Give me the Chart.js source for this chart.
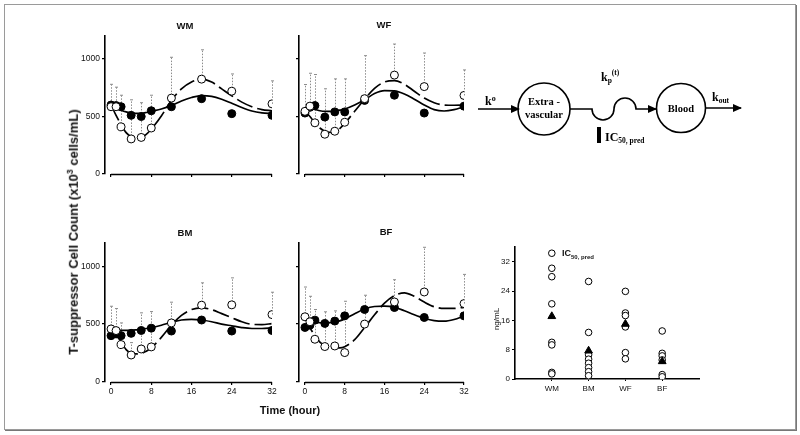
<!DOCTYPE html>
<html><head><meta charset="utf-8">
<script src="https://cdn.jsdelivr.net/npm/chart.js@4.4.0/dist/chart.umd.min.js"></script>
<style>
body{margin:0;background:#fff;width:800px;height:435px;position:relative;overflow:hidden;font-family:"Liberation Sans",Arial,sans-serif;color:#111;}
.frame{position:absolute;left:4px;top:4px;width:790px;height:424px;border:1px solid #9a9a9a;box-shadow:1px 1px 0 #777;}
canvas{position:absolute;}
.t{position:absolute;font-weight:bold;white-space:nowrap;transform:translate(-50%,-50%);}
</style></head>
<body>
<div class="frame"></div>
<canvas id="wm" width="225" height="170" style="left:60px;top:15px"></canvas>
<canvas id="wf" width="225" height="170" style="left:250px;top:15px"></canvas>
<canvas id="bm" width="225" height="185" style="left:60px;top:222px"></canvas>
<canvas id="bf" width="225" height="185" style="left:250px;top:222px"></canvas>
<canvas id="ic" width="220" height="165" style="left:490px;top:240px"></canvas>

<div class="t" style="left:185px;top:25px;font-size:9.5px">WM</div>
<div class="t" style="left:384px;top:24px;font-size:9.5px">WF</div>
<div class="t" style="left:185px;top:232px;font-size:9.5px">BM</div>
<div class="t" style="left:386px;top:231px;font-size:9.5px">BF</div>
<div class="t" style="left:290px;top:410px;font-size:11px">Time (hour)</div>
<div class="t" style="left:73px;top:232px;font-size:13px;transform:translate(-50%,-50%) rotate(-90deg)">T-suppressor Cell Count (x10<sup style="font-size:8.5px">3</sup> cells/mL)</div>
<div class="t" style="left:496px;top:319px;font-size:8px;font-weight:normal;transform:translate(-50%,-50%) rotate(-90deg)">ng/mL</div>
<div class="t" style="left:578px;top:254px;font-size:9px">IC<sub style="font-size:6px">50, pred</sub></div>

<svg width="800" height="435" style="position:absolute;left:0;top:0" font-family="'Liberation Serif',serif" font-weight="bold">
 <defs><marker id="ah" markerWidth="9" markerHeight="8" refX="8" refY="4" orient="auto" markerUnits="userSpaceOnUse"><path d="M0,0 L9,4 L0,8 z" fill="#000"/></marker></defs>
 <g stroke="#000" stroke-width="1.6" fill="none">
  <line x1="478" y1="109" x2="519" y2="109" marker-end="url(#ah)"/>
  <circle cx="544" cy="109" r="26"/>
  <path d="M570,109 H592 A11,11 0 0 0 614,109 A11,11 0 0 1 636,109 H656" marker-end="url(#ah)"/>
  <circle cx="681" cy="108" r="24.5"/>
  <line x1="705.5" y1="108" x2="741" y2="108" marker-end="url(#ah)"/>
 </g>
 <rect x="597" y="127" width="4" height="16" fill="#000"/>
 <text x="485" y="105" font-size="12">k<tspan font-size="8" dy="-4">o</tspan></text>
 <text x="544" y="105" font-size="10.5" text-anchor="middle">Extra -</text>
 <text x="544" y="118" font-size="10.5" text-anchor="middle">vascular</text>
 <text x="681" y="112" font-size="10.5" text-anchor="middle">Blood</text>
 <text x="712" y="101" font-size="12">k<tspan font-size="7.5" dy="2">out</tspan></text>
 <text x="601" y="81" font-size="12">k<tspan font-size="7.5" dy="2">p</tspan><tspan font-size="7.5" dy="-8">(t)</tspan></text>
 <text x="605" y="141" font-size="12">IC<tspan font-size="7.5" dy="2">50, pred</tspan></text>
</svg>

<script>
// ---- data ----
const times = [0, 1, 2, 4, 6, 8, 12, 18, 24, 32];
const curveT = [0, 1, 2, 3, 4, 5, 6, 7, 8, 10, 12, 14, 16, 18, 20, 22, 24, 26, 28, 30, 32];
const xTicks = [0, 8, 16, 24, 32];
const yTicks = [0, 500, 1000];

const wmFilled = [600, 595, 585, 510, 500, 550, 585, 655, 525, 510];
const wmOpen   = [585, 585, 410, 305, 318, 400, 660, 825, 720, 610];
const wmErrTop = [780, 755, 685, 645, 620, 685, 1015, 1080, 870, 810];
const wmSolid  = [600, 575, 555, 540, 530, 527, 528, 535, 545, 565, 595, 635, 665, 682, 675, 650, 615, 578, 548, 532, 525];
const wmDashed = [600, 510, 430, 360, 325, 312, 318, 345, 390, 505, 640, 740, 800, 825, 800, 740, 680, 625, 585, 560, 550];

const wfFilled = [530, 580, 595, 495, 540, 540, 640, 685, 530, 590];
const wfOpen   = [545, 590, 445, 346, 372, 450, 655, 860, 760, 683];
const wfErrTop = [778, 876, 865, 741, 827, 827, 1029, 1130, 1052, 905];
const wfSolid  = [535, 570, 562, 550, 545, 545, 548, 555, 565, 600, 645, 700, 725, 722, 695, 650, 600, 560, 548, 560, 585];
const wfDashed = [545, 500, 445, 400, 372, 362, 368, 395, 440, 545, 650, 745, 800, 812, 780, 720, 660, 620, 600, 598, 600];

const bmFilled = [400, 415, 400, 420, 445, 465, 440, 535, 440, 445];
const bmOpen   = [458, 444, 323, 233, 285, 303, 510, 663, 666, 582];
const bmErrTop = [654, 634, 510, 340, 597, 608, 689, 856, 899, 775];
const bmSolid  = [440, 445, 445, 445, 446, 450, 455, 462, 470, 490, 515, 535, 540, 535, 520, 500, 485, 470, 462, 462, 468];
const bmDashed = [460, 420, 345, 280, 248, 242, 248, 265, 295, 385, 490, 575, 625, 640, 625, 590, 555, 520, 498, 495, 505];

const bfFilled = [471, 491, 534, 506, 526, 571, 626, 643, 557, 571];
const bfOpen   = [563, 520, 369, 306, 311, 254, 500, 691, 777, 677];
const bfErrTop = [820, 740, 626, 606, 614, 697, 749, 883, 1163, 929];
const bfSolid  = [475, 505, 515, 512, 510, 512, 518, 528, 545, 590, 630, 652, 655, 645, 615, 580, 550, 530, 525, 540, 570];
const bfDashed = [565, 470, 400, 345, 315, 300, 295, 295, 305, 365, 470, 580, 680, 745, 770, 740, 690, 650, 635, 635, 645];

const icCats = ['WM', 'BM', 'WF', 'BF'];
const icWM = [34.3, 30.2, 27.9, 20.5, 10.0, 9.3, 1.8, 1.4];
const icBM = [26.6, 12.7, 6.6, 5.4, 4.3, 3.1, 2.0, 0.9];
const icWF = [23.9, 18.0, 17.3, 14.2, 7.2, 5.5];
const icBF = [13.1, 7.0, 6.3, 5.2, 1.2, 0.6];
const icMean = [17.1, 7.7, 15.0, 4.8];
const icTicks = [0, 8, 16, 24, 32];

Chart.defaults.font.family = "'Liberation Sans', Arial, sans-serif";
Chart.defaults.color = '#111';

const panelPlugin = {
  id: 'panel',
  beforeDatasetsDraw(chart, args, opts) {
    const {ctx, scales: {x, y}} = chart;
    if (opts.err) {
      ctx.save();
      ctx.strokeStyle = '#8c8c8c';
      ctx.lineWidth = 1;
      opts.err.base.forEach((b, i) => {
        const px = Math.round(x.getPixelForValue(opts.err.t[i])) + 0.5;
        const y0 = y.getPixelForValue(b), y1 = y.getPixelForValue(opts.err.top[i]);
        ctx.setLineDash([1.5, 1.5]);
        ctx.beginPath(); ctx.moveTo(px, y0); ctx.lineTo(px, y1); ctx.stroke();
        ctx.setLineDash([]);
        ctx.beginPath(); ctx.moveTo(px - 1.5, y1); ctx.lineTo(px + 1.5, y1); ctx.stroke();
      });
      ctx.restore();
    }
  },
  afterDraw(chart, args, opts) {
    if (!opts.xline) return;
    const {ctx, scales: {x}, chartArea} = chart;
    ctx.save();
    ctx.strokeStyle = '#000'; ctx.lineWidth = 1.6;
    ctx.beginPath();
    ctx.moveTo(x.getPixelForValue(opts.xline[0]), chartArea.bottom + 0.5);
    ctx.lineTo(x.getPixelForValue(opts.xline[1]), chartArea.bottom + 0.5);
    ctx.stroke();
    ctx.restore();
  }
};
Chart.register(panelPlugin);

function pts(xs, ys) { return xs.map((t, i) => ({x: t, y: ys[i]})); }
const plain = v => String(v);

function panel(id, filled, open, errTop, solid, dashed, showY, showX, yW, xH, padTop, padRight) {
  new Chart(document.getElementById(id), {
    type: 'scatter',
    data: {datasets: [
      {type: 'line', data: pts(curveT, solid), borderColor: '#000', borderWidth: 1.7, pointRadius: 0, cubicInterpolationMode: 'monotone', order: 3},
      {type: 'line', data: pts(curveT, dashed), borderColor: '#000', borderWidth: 1.7, borderDash: [17, 5], pointRadius: 0, cubicInterpolationMode: 'monotone', order: 4},
      {data: pts(times, filled), pointRadius: 4, backgroundColor: '#000', borderColor: '#000', borderWidth: 1, order: 1},
      {data: pts(times, open), pointRadius: 4, backgroundColor: '#fff', borderColor: '#000', borderWidth: 1, order: 0}
    ]},
    options: {
      responsive: false, animation: false, events: [],
      layout: {padding: {top: padTop, right: padRight, left: 0, bottom: 0}},
      plugins: {legend: {display: false}, tooltip: {enabled: false},
        panel: {err: {t: times, base: open, top: errTop}, xline: [0, 32]}},
      scales: {
        x: {type: 'linear', min: -1.2, max: 32,
          afterBuildTicks: s => { s.ticks = xTicks.map(v => ({value: v})); },
          afterFit: s => { s.height = xH; },
          border: {display: false},
          grid: {display: true, drawOnChartArea: false, tickLength: 3, color: '#000', lineWidth: 1.2},
          ticks: {display: showX, padding: 2, maxRotation: 0, font: {size: 8.5}, color: '#111', callback: plain}},
        y: {min: 0, max: 1200,
          afterBuildTicks: s => { s.ticks = yTicks.map(v => ({value: v})); },
          afterFit: s => { s.width = yW; },
          border: {display: true, color: '#000', width: 1.6},
          grid: {display: true, drawOnChartArea: false, tickLength: 3, color: '#000', lineWidth: 1.2},
          ticks: {display: showY, padding: 2, font: {size: 8.5}, color: '#111', callback: plain}}
      }
    }
  });
}

// canvas left 60 -> axis at 105 ; canvas left 250 -> axis at 299
panel('wm', wmFilled, wmOpen, wmErrTop, wmSolid, wmDashed, true, false, 45, 11, 21, 13);
panel('wf', wfFilled, wfOpen, wfErrTop, wfSolid, wfDashed, false, false, 49, 11, 21, 11);
panel('bm', bmFilled, bmOpen, bmErrTop, bmSolid, bmDashed, true, true, 45, 25, 21, 13);
panel('bf', bfFilled, bfOpen, bfErrTop, bfSolid, bfDashed, false, true, 49, 25, 21, 11);

function icPts(idx, vals) { return vals.map(v => ({x: idx, y: v})); }
new Chart(document.getElementById('ic'), {
  type: 'scatter',
  data: {datasets: [
    {data: icMean.map((v, i) => ({x: i + 1, y: v})), pointStyle: 'triangle', pointRadius: 4.5, backgroundColor: '#000', borderColor: '#000', order: 0},
    {data: icPts(1, icWM), pointRadius: 3.3, backgroundColor: '#fff', borderColor: '#000', borderWidth: 1, order: 1},
    {data: icPts(2, icBM), pointRadius: 3.3, backgroundColor: '#fff', borderColor: '#000', borderWidth: 1, order: 1},
    {data: icPts(3, icWF), pointRadius: 3.3, backgroundColor: '#fff', borderColor: '#000', borderWidth: 1, order: 1},
    {data: icPts(4, icBF), pointRadius: 3.3, backgroundColor: '#fff', borderColor: '#000', borderWidth: 1, order: 1}
  ]},
  options: {
    responsive: false, animation: false, events: [],
    layout: {padding: {top: 7, right: 11, left: 0, bottom: 0}},
    plugins: {legend: {display: false}, tooltip: {enabled: false}},
    scales: {
      x: {type: 'linear', min: 0, max: 5,
        afterBuildTicks: s => { s.ticks = icCats.map((c, i) => ({value: i + 1})); },
        afterFit: s => { s.height = 26; },
        border: {display: true, color: '#000', width: 1.6},
        grid: {display: true, drawOnChartArea: false, tickLength: 2, color: '#000'},
        ticks: {padding: 3, maxRotation: 0, font: {size: 8}, color: '#111', callback: v => icCats[v - 1]}},
      y: {min: 0, max: 36,
        afterBuildTicks: s => { s.ticks = icTicks.map(v => ({value: v})); },
        afterFit: s => { s.width = 25; },
        border: {display: true, color: '#000', width: 1.6},
        grid: {display: true, drawOnChartArea: false, tickLength: 3, color: '#000'},
        ticks: {padding: 2, font: {size: 8}, color: '#111', callback: plain}}
    }
  }
});
</script>
</body></html>
